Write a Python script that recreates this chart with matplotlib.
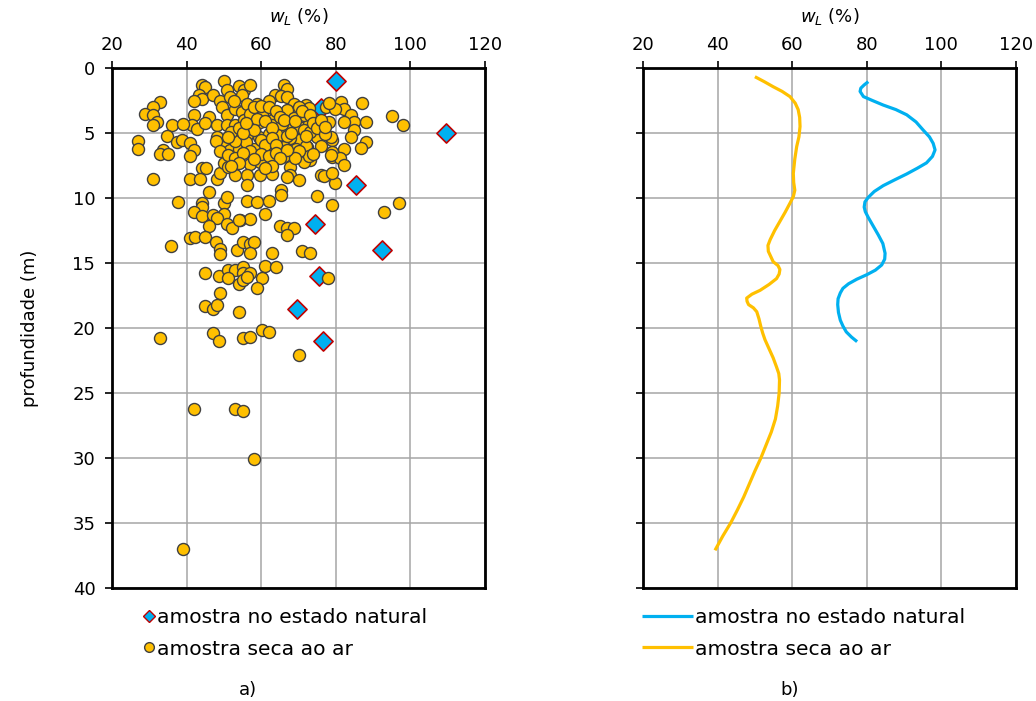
import numpy as np
import matplotlib.pyplot as plt
from matplotlib.lines import Line2D

# --- data: a) liquid limit vs depth, points ---
wl_natural = [80.0, 75.9, 109.5, 85.3, 74.3, 92.3, 75.4, 69.5, 76.7]
z_natural = [1.0, 3.1, 5.0, 9.0, 12.0, 14.0, 16.0, 18.5, 21.0]

pts_seco = [
    (49.9, 1.03), (44.1, 1.33), (45.0, 1.46), (50.8, 1.7), (54.0, 1.38), (55.3, 1.7), (43.2, 2.1),
    (44.1, 2.4), (42.0, 2.5), (47.0, 2.05), (49.0, 2.5), (51.7, 2.2), (32.9, 2.6), (30.9, 3.0),
    (28.9, 3.5), (30.9, 3.6), (32.0, 4.15), (30.9, 4.35), (49.5, 3.0), (50.8, 3.6), (53.1, 3.13),
    (54.8, 3.4), (41.9, 3.6), (45.9, 3.77), (41.4, 4.35), (36.0, 4.35), (39.0, 4.28), (42.9, 4.67),
    (45.0, 4.2), (48.1, 4.4), (50.8, 4.4), (53.1, 5.05), (48.1, 5.3), (34.7, 5.23), (27.1, 5.6),
    (27.1, 6.25), (37.4, 5.7), (38.7, 5.56), (41.0, 5.8), (42.0, 6.3), (33.8, 6.3), (32.9, 6.6),
    (35.1, 6.6), (49.9, 6.1), (51.7, 6.3), (54.0, 6.25), (56.2, 6.2), (54.8, 2.1), (52.6, 2.5),
    (53.1, 4.4), (55.3, 4.0),
    (66.0, 1.33), (66.9, 1.6), (57.1, 1.33), (63.7, 2.1), (65.2, 2.15), (66.9, 2.2), (62.0, 2.5),
    (58.8, 2.8), (56.2, 2.75), (68.7, 2.75), (71.9, 2.87), (72.8, 3.1), (68.7, 3.4), (62.0, 3.26),
    (60.2, 3.6), (77.3, 3.0), (81.3, 2.6), (82.2, 3.13), (79.9, 3.18), (87.1, 2.67), (84.0, 3.64),
    (84.9, 4.15), (88.0, 4.15), (82.2, 4.15), (78.1, 4.15), (84.9, 4.8), (84.0, 5.3), (88.0, 5.7),
    (86.7, 6.15), (79.0, 5.56), (78.6, 5.3), (82.2, 6.25), (79.0, 6.46), (75.0, 5.3), (72.3, 6.1),
    (70.1, 5.56), (67.4, 5.56), (66.0, 4.9), (70.1, 4.54), (72.8, 4.28), (71.4, 3.64), (63.3, 3.9),
    (62.9, 4.4), (59.8, 4.15), (57.1, 4.4), (56.2, 5.18), (59.3, 5.3), (62.0, 5.05), (64.7, 5.18),
    (66.9, 4.67), (58.0, 6.2), (62.0, 6.2), (65.2, 6.1), (69.2, 6.2),
    (78.1, 2.7), (79.0, 6.82), (81.1, 6.95), (79.9, 8.87), (75.9, 8.23), (76.8, 8.3), (79.0, 8.1),
    (75.0, 9.85), (71.9, 6.82), (73.2, 7.1), (67.8, 7.6), (67.8, 8.23), (70.1, 8.6), (66.9, 8.36),
    (71.9, 6.0), (71.4, 4.77), (66.9, 3.23), (68.7, 3.87), (65.6, 4.27), (67.8, 5.4), (66.0, 6.05),
    (57.1, 7.38), (56.2, 8.23), (56.2, 9.0), (59.8, 8.23), (62.9, 8.15), (62.9, 7.2), (59.8, 7.2),
    (66.0, 6.8), (71.4, 7.2), (72.8, 6.8), (78.6, 6.7), (82.2, 7.46), (65.2, 9.4), (65.2, 9.77),
    (79.0, 10.5), (56.2, 10.2), (58.8, 10.33), (62.0, 10.2), (60.9, 11.2), (54.4, 11.7), (57.1, 11.64),
    (65.0, 12.15), (66.9, 12.3), (68.7, 12.3), (66.9, 12.85),
    (30.9, 8.56), (41.0, 6.8), (44.1, 7.7), (45.3, 7.7), (41.0, 8.5), (43.7, 8.5), (48.1, 8.56),
    (49.0, 8.1), (49.9, 7.33), (51.2, 7.6), (53.1, 8.23), (45.9, 9.5), (37.8, 10.28), (44.1, 10.36),
    (44.1, 10.66), (42.0, 11.1), (44.1, 11.4), (47.0, 11.3), (49.9, 10.4), (50.8, 9.9), (49.9, 11.2),
    (48.1, 11.56), (50.8, 12.0), (52.2, 12.3), (54.0, 11.7), (45.9, 12.15), (41.0, 13.1), (42.3, 13.0),
    (45.0, 13.0),
    (35.9, 13.67), (47.9, 13.4), (49.0, 13.95), (49.0, 14.3), (53.4, 14.0), (55.0, 13.36), (57.1, 13.5),
    (58.2, 13.36), (57.1, 14.25), (62.9, 14.25), (71.0, 14.1), (73.0, 14.25), (78.0, 16.13), (45.0, 15.8),
    (48.8, 16.0), (51.0, 15.5), (53.1, 15.5), (55.0, 15.3), (55.0, 15.75), (57.1, 15.75), (51.1, 16.18),
    (54.0, 16.6), (55.0, 16.3), (56.2, 16.1), (60.1, 16.13), (60.9, 15.23), (64.0, 15.3), (59.0, 16.95),
    (49.0, 17.28), (45.0, 18.3), (47.0, 18.5), (48.1, 18.23), (54.0, 18.8), (32.9, 20.8), (47.0, 20.4),
    (48.8, 21.0), (55.0, 20.75), (57.1, 20.7), (60.1, 20.15), (62.0, 20.3), (70.0, 22.1),
    (42.0, 26.26), (52.9, 26.26), (55.0, 26.4), (58.0, 30.1), (39.0, 37.0),
    (95.0, 3.7), (97.9, 4.36), (97.0, 10.36), (92.9, 11.08),
    (57, 3.5), (59, 3.9), (61, 4.1), (63, 4.6), (58, 4.8), (60, 5.5), (61, 5.9), (63, 5.4), (64, 5.9),
    (56, 5.7), (57, 6.4), (60, 6.6), (58, 7.0), (62, 6.8), (64, 6.5), (53, 5.6), (52, 4.9), (54, 4.6),
    (51, 5.3), (55, 5.0), (56, 4.2), (58, 3.0), (60, 2.9), (62, 3.0), (64, 3.3), (65, 3.8), (66, 4.0),
    (67, 5.2), (68, 5.0), (69, 4.1), (70, 3.0), (71, 3.3), (73, 3.6), (73, 4.9), (74, 4.2), (75, 4.6),
    (76, 4.0), (77, 5.1), (77, 4.5), (76, 6.0), (74, 6.6), (72, 5.2), (70, 6.4), (69, 6.9), (67, 6.3),
    (65, 6.9), (63, 7.5), (61, 7.7), (48, 5.6), (49, 6.4), (51, 6.7), (53, 6.9), (55, 6.5), (54, 7.3),
    (52, 7.5),
]
wl_seco = [p[0] for p in pts_seco]
z_seco = [p[1] for p in pts_seco]

# --- data: b) smoothed profiles ---
wl_nat_curve = [80.4, 79.3, 78.4, 78.2, 79.1, 81.5, 84.4, 87.8, 90.7, 93.2, 95.1, 96.8, 97.8, 98.3,
                97.6, 96.0, 93.6, 90.7, 87.5, 84.4, 82.0, 80.4, 79.5, 79.3, 79.6, 80.4, 81.8, 83.1,
                84.3, 84.9, 84.8, 84.0, 82.3, 80.0, 77.3, 75.1, 73.6, 72.9, 72.3, 72.2, 72.4, 72.9,
                73.6, 74.5, 75.9, 77.4]
z_nat_curve = [1.05, 1.3, 1.55, 1.8, 2.2, 2.5, 2.85, 3.2, 3.6, 4.15, 4.77, 5.3, 5.8, 6.3,
               6.8, 7.3, 7.7, 8.15, 8.6, 9.05, 9.5, 9.95, 10.3, 10.7, 11.05, 11.5, 12.2, 12.85,
               13.5, 14.25, 14.7, 15.15, 15.55, 15.9, 16.25, 16.6, 16.95, 17.3, 17.75, 18.2, 18.8, 19.4,
               19.85, 20.3, 20.7, 21.05]
wl_seco_curve = [50.0, 52.5, 54.9, 57.3, 59.4, 60.8, 61.6, 62.0, 62.1, 61.8, 61.2, 60.7, 60.3, 60.4,
                 60.7, 60.3, 59.4, 58.1, 56.7, 55.3, 54.1, 53.5, 53.6, 54.9, 56.2, 56.7, 56.5, 55.8,
                 53.8, 51.4, 49.2, 47.8, 47.9, 48.3, 49.6, 50.5, 51.1, 51.6, 52.1, 52.7, 53.8, 54.9,
                 55.8, 56.4, 56.6, 56.5, 56.1, 55.5, 54.4, 53.0, 51.6, 50.0, 48.5, 47.0, 45.3, 43.5,
                 41.4, 39.3]
z_seco_curve = [0.67, 1.05, 1.44, 1.8, 2.2, 2.7, 3.2, 3.8, 4.5, 5.3, 6.05, 7.0, 8.1, 8.8,
                9.4, 9.9, 10.4, 11.1, 11.8, 12.5, 13.2, 13.65, 14.1, 14.9, 15.2, 15.5, 15.85, 16.2,
                16.65, 17.1, 17.4, 17.7, 17.95, 18.2, 18.45, 18.75, 19.3, 19.9, 20.4, 20.9, 21.6, 22.3,
                23.0, 23.5, 24.0, 25.0, 26.0, 27.0, 28.0, 29.0, 30.0, 31.0, 32.0, 33.0, 34.0, 35.0,
                36.0, 37.1]

yellow = '#FFC000'
blue = '#00B0F0'
FS = 13

plt.rcParams['font.family'] = 'DejaVu Sans'
fig = plt.figure(figsize=(10.36, 7.01), dpi=100)
ax1 = fig.add_axes([112/1036, 1-588/701, 373/1036, 520/701])
ax2 = fig.add_axes([643/1036, 1-588/701, 373/1036, 520/701])

for ax in (ax1, ax2):
    ax.set_xlim(20, 120)
    ax.set_ylim(40, 0)
    ax.set_xticks(np.arange(20, 121, 20))
    ax.set_yticks(np.arange(0, 41, 5))
    ax.xaxis.tick_top()
    ax.xaxis.set_label_position('top')
    ax.set_xlabel('$w_L$ (%)', fontsize=FS)
    ax.xaxis.set_label_coords(0.5, 1.088)
    ax.grid(True, color='#A6A6A6', lw=1.1)
    ax.set_axisbelow(True)
    ax.tick_params(axis='x', direction='out', length=5, width=1.2, pad=5, labelsize=FS)
    ax.tick_params(axis='y', direction='out', length=5, width=1.2, pad=7, labelsize=FS)
    for s in ax.spines.values():
        s.set_linewidth(2)
        s.set_color('black')

ax1.set_ylabel('profundidade (m)', fontsize=FS)
ax1.yaxis.set_label_coords(-0.195, 0.5)
ax2.tick_params(axis='y', labelleft=False)

ax1.scatter(wl_natural, z_natural, marker='D', s=95, facecolor=blue, edgecolor='#C00000',
            linewidth=1.2, zorder=3, label='amostra no estado natural')
ax1.scatter(wl_seco, z_seco, marker='o', s=75, facecolor=yellow, edgecolor='#404040',
            linewidth=1.0, zorder=4, label='amostra seca ao ar')

ax2.plot(wl_nat_curve, z_nat_curve, color=blue, lw=2.3, solid_capstyle='butt',
         solid_joinstyle='round', label='amostra no estado natural')
ax2.plot(wl_seco_curve, z_seco_curve, color=yellow, lw=2.3, solid_capstyle='butt',
         solid_joinstyle='round', label='amostra seca ao ar')

h1 = [Line2D([], [], ls='none', marker='D', ms=6, mfc=blue, mec='#C00000', mew=1.0),
      Line2D([], [], ls='none', marker='o', ms=7, mfc=yellow, mec='#404040', mew=1.0)]
fig.legend(h1, ['amostra no estado natural', 'amostra seca ao ar'], loc='upper left',
           bbox_to_anchor=(144/1036, 1-608/701), frameon=False, fontsize=14.6,
           handlelength=0.5, handletextpad=0.15, borderpad=0, borderaxespad=0, labelspacing=0.62)
fig.legend(*ax2.get_legend_handles_labels(), loc='upper left',
           bbox_to_anchor=(642/1036, 1-608/701), frameon=False, fontsize=14.6,
           handlelength=2.5, handletextpad=0.1, borderpad=0, borderaxespad=0, labelspacing=0.62)

fig.text(248/1036, 1-690/701, 'a)', fontsize=FS, ha='center', va='center')
fig.text(790/1036, 1-690/701, 'b)', fontsize=FS, ha='center', va='center')

fig.savefig('out.png', dpi=100)
